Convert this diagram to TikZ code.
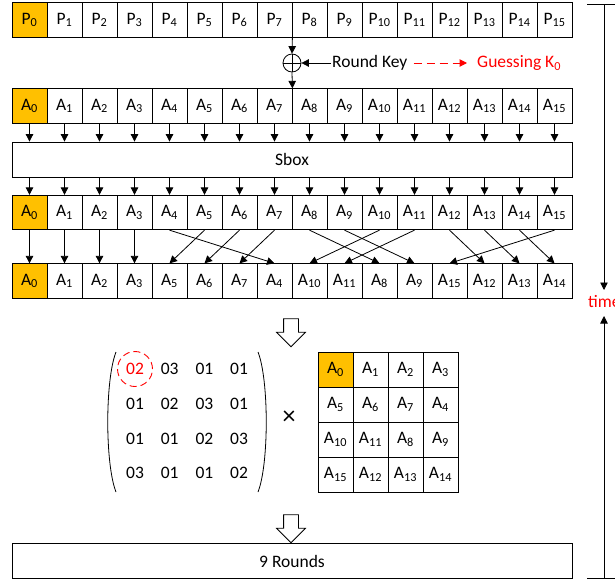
\documentclass[tikz,border=0pt]{standalone}
\usepackage{fontspec}
\setmainfont{Carlito}
\usepackage{xcolor}
\definecolor{keygold}{HTML}{FFC000}
\definecolor{guessred}{HTML}{FF0000}
\usetikzlibrary{arrows.meta,shapes.arrows,positioning}

\begin{document}
\begin{tikzpicture}[
		x=1pt, y=-1pt,
		font=\fontsize{17.5}{20}\selectfont,
		cell/.style={draw, line width=0.8pt, minimum width=35pt, minimum height=34.5pt, inner sep=0pt},
		gold/.style={cell, fill=keygold},
		flow/.style={-{Triangle[length=7.5pt,width=7.5pt]}, line width=0.8pt},
		hollow/.style={single arrow, shape border rotate=270, draw, line width=0.8pt, minimum height=28pt, inner sep=7pt, single arrow head extend=7pt}
	]
		\useasboundingbox (0,0) rectangle (615,581);

		\node[gold] (p0) at (29.5,20) {P\textsubscript{0}};
		\foreach \i in {1,...,15}
			\node[cell] (p\i) at (29.5+35*\i,20) {P\textsubscript{\i}};

		\node[circle, draw, line width=0.8pt, minimum size=18pt, inner sep=0pt] (xor) at (292,63) {};
		\draw[line width=0.8pt] (xor.north) -- (xor.south) (xor.west) -- (xor.east);
		\node[anchor=west, inner sep=1pt] (rk) at (331,63) {Round Key};
		\node[anchor=west, inner sep=1pt, text=guessred] (guess) at (476,63) {Guessing K\textsubscript{0}};
		\draw[flow] (p7.south east) -- (xor.north);
		\draw[flow] (rk.west) -- (xor.east);
		\draw[flow, guessred, line width=1pt, dash pattern=on 8pt off 5pt, shorten <=5pt, shorten >=9pt] (rk) -- (guess);

		\node[gold] (a0) at (29.5,106) {A\textsubscript{0}};
		\foreach \i in {1,...,15}
			\node[cell] (a\i) at (29.5+35*\i,106) {A\textsubscript{\i}};
		\draw[flow] (xor.south) -- (a7.north east);

		\node[cell, minimum width=560pt, minimum height=35pt] (sbox) at (292,159.5) {Sbox};

		\node[gold] (b0) at (29.5,212.5) {A\textsubscript{0}};
		\foreach \i in {1,...,15}
			\node[cell] (b\i) at (29.5+35*\i,212.5) {A\textsubscript{\i}};

		\foreach \i in {0,...,15} {
			\draw[flow] (a\i.south) -- (a\i.south |- sbox.north);
			\draw[flow] (sbox.south -| b\i.north) -- (b\i.north);
		}

		\node[gold] (c0) at (29.5,281) {A\textsubscript{0}};
		\foreach \v [count=\k from 1] in {1,2,3,5,6,7,4,10,11,8,9,15,12,13,14}
			\node[cell] (c\k) at (29.5+35*\k,281) {A\textsubscript{\v}};

		\foreach \s/\t in {0/0,1/1,2/2,3/3,4/7,5/4,6/5,7/6,8/10,9/11,10/8,11/9,12/13,13/14,14/15,15/12}
			\draw[flow] (b\s.south) -- (c\t.north);

		\node[hollow] (down1) at (291,329) {};

		\draw[line width=0.8pt] (116,352) .. controls (105,380) and (105,464) .. (116,492);
		\draw[line width=0.8pt] (258,352) .. controls (269,380) and (269,464) .. (258,492);
		\foreach \row [count=\r from 0] in {{02,03,01,01},{01,02,03,01},{01,01,02,03},{03,01,01,02}}
			\foreach \v [count=\c from 0] in \row {
				\ifnum\r\c=0 \def\mcol{guessred}\else\def\mcol{black}\fi
				\node[text=\mcol] (m\r\c) at (135+34.7*\c,369+34.7*\r) {\v};
			}
		\node[circle, draw=guessred, line width=0.9pt, dash pattern=on 7pt off 4pt, minimum size=35pt] (pick) at (m00) {};

		\node[font=\fontsize{26}{26}\selectfont] (times) at (289,418) {×};

		\foreach \v [count=\k from 0] in {0,1,2,3,5,6,7,4,10,11,8,9,15,12,13,14} {
			\pgfmathtruncatemacro{\gr}{int(\k/4)}
			\pgfmathtruncatemacro{\gc}{mod(\k,4)}
			\node[cell, minimum height=35pt] (g\k) at (335.5+35*\gc,369.5+35*\gr) {A\textsubscript{\v}};
		}
		\node[gold, minimum height=35pt] at (g0) {A\textsubscript{0}};

		\node[hollow] (down2) at (291,525) {};

		\node[cell, minimum width=560pt, minimum height=35pt] (rounds) at (292,561) {9 Rounds};

		\coordinate (ttop) at (604,4);
		\coordinate (tbot) at (604,578);
		\coordinate (tdown) at (604,290);
		\coordinate (tup) at (604,316);
		\node[anchor=west, inner sep=0pt, text=guessred] (time) at (588,302) {time};
		\draw[line width=0.8pt] ([xshift=-17pt]ttop) -- ([xshift=11pt]ttop);
		\draw[line width=0.8pt] ([xshift=-17pt]tbot) -- ([xshift=11pt]tbot);
		\draw[flow] (ttop) -- (tdown);
		\draw[flow] (tbot) -- (tup);
	\end{tikzpicture}
\end{document}
